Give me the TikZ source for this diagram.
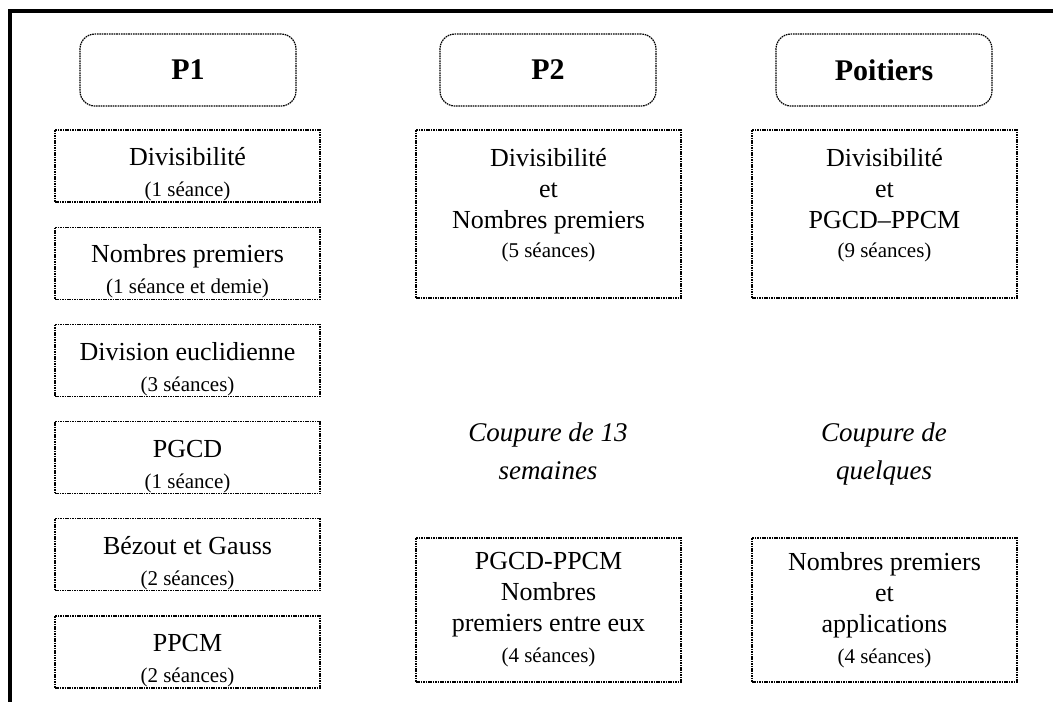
\documentclass[tikz,border=0pt]{standalone}
\usepackage{fontspec}
\setmainfont{Liberation Serif}
\usetikzlibrary{positioning}
\newcommand{\bodysize}{\fontsize{26}{31}\selectfont}
\newcommand{\seance}[1]{{\fontsize{21}{31}\selectfont(#1)}}
\newcommand{\lowstrut}{\rule{0pt}{35pt}}

\begin{document}
\begin{tikzpicture}[x=1pt, y=-1pt,
  head/.style={draw, line width=1.2pt, dash pattern=on 1.6pt off 0.8pt, rounded corners=15pt,
               minimum width=216pt, minimum height=72pt, font=\fontsize{30}{36}\selectfont\bfseries},
  item/.style={draw, line width=1.2pt, dash pattern=on 1.6pt off 0.8pt, minimum width=265pt,
               minimum height=72pt, align=center, font=\bodysize, inner sep=0pt},
  tbox/.style={item, minimum height=168pt, text depth=22pt},
  bbox/.style={item, minimum height=144pt},
  cut/.style={align=center, font=\fontsize{27}{38}\selectfont\itshape},
  node distance=24pt
]
  \useasboundingbox (0,0) rectangle (1053,702);
  % cadre
  \draw[line width=4pt] (1053,11) -- (9.5,11) -- (9.5,702);
  % en-tetes
  \node[head] (p1) at (188,70) {P1};
  \node[head] (p2) at (548,70) {P2};
  \node[head] (poit) at (884,70) {Poitiers};
  % colonne P1
  \node[item] (div1) at (187.5,166) {\lowstrut Divisibilité\\\seance{1 séance}};
  \node[item, below=of div1] (prem1) {\lowstrut Nombres premiers\\\seance{1 séance et demie}};
  \node[item, below=of prem1] (eucl1) {\lowstrut Division euclidienne\\\seance{3 séances}};
  \node[item, below=of eucl1] (pgcd1) {\lowstrut PGCD\\\seance{1 séance}};
  \node[item, below=of pgcd1] (bez1) {\lowstrut Bézout et Gauss\\\seance{2 séances}};
  \node[item, below=of bez1] (ppcm1) {\lowstrut PPCM\\\seance{2 séances}};
  % colonne P2
  \node[tbox] (div2) at (548.5,214)
    {Divisibilité\\et\\Nombres premiers\\[-2pt]\seance{5 séances}};
  \node[cut] (coup2) at (548,451) {Coupure de 13\\semaines};
  \node[bbox] (pgcd2) at (548.5,610)
    {PGCD-PPCM\\Nombres\\premiers entre eux\\\seance{4 séances}};
  % colonne Poitiers
  \node[tbox] (div3) at (884.5,214)
    {Divisibilité\\et\\PGCD–PPCM\\[-2pt]\seance{9 séances}};
  \node[cut] (coup3) at (884,454) {Coupure de\\quelques};
  \node[bbox] (prem3) at (884.5,610)
    {Nombres premiers\\et\\applications\\\seance{4 séances}};
\end{tikzpicture}
\end{document}
